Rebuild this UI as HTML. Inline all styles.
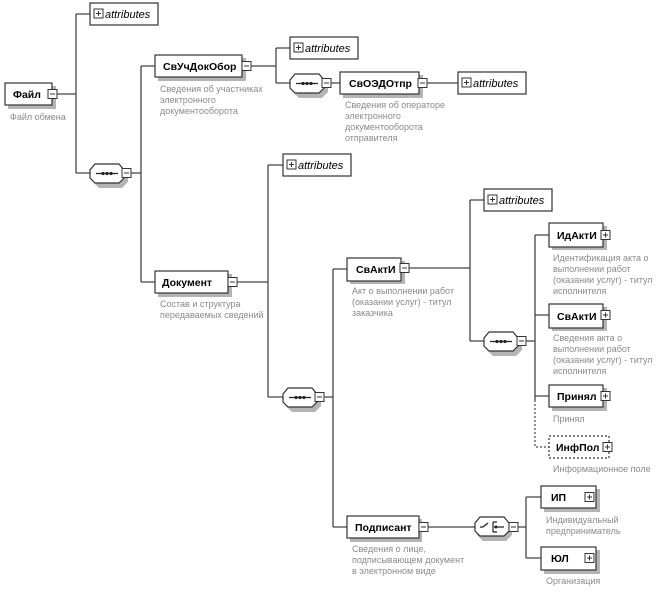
<!DOCTYPE html>
<html><head><meta charset="utf-8"><style>
html,body{margin:0;padding:0;background:#fff;}
svg{display:block;}
.n{font-family:"Liberation Sans",sans-serif;font-size:10.5px;font-weight:bold;fill:#000;}
.a{font-family:"Liberation Sans",sans-serif;font-size:11px;font-style:italic;fill:#000;}
.c{font-family:"Liberation Sans",sans-serif;font-size:9px;fill:#8a8a8a;}
.l{stroke:#444;stroke-width:1.3;fill:none;}
.sh{fill:#b4b4b4;}
.bx{fill:#fff;stroke:#333;stroke-width:1.2;}
.ic{fill:#fff;stroke:#333;stroke-width:1;}
</style></head><body>
<svg width="661" height="593" viewBox="0 0 661 593" xmlns="http://www.w3.org/2000/svg">
<defs>
<g id="mi"><rect class="ic" x="0" y="-4.5" width="9" height="9"/><line x1="2" y1="0" x2="7" y2="0" stroke="#333"/></g>
<g id="pl"><rect class="ic" x="0" y="-4.5" width="9" height="9"/><line x1="2" y1="0" x2="7" y2="0" stroke="#333"/><line x1="4.5" y1="-2.5" x2="4.5" y2="2.5" stroke="#333"/></g>
<g id="seq">
<polygon points="6,3 29,3 35,9 35,16 29,22 6,22 0,16 0,9" class="sh" transform="translate(3,2)"/>
<polygon points="5,0 29,0 34,6 34,14 29,19 5,19 0,14 0,6" class="bx"/>
<line x1="6" y1="9.5" x2="28" y2="9.5" stroke="#222" stroke-width="1.2"/>
<circle cx="13" cy="9.5" r="1.6" fill="#222"/><circle cx="17" cy="9.5" r="1.6" fill="#222"/><circle cx="21" cy="9.5" r="1.6" fill="#222"/>
</g>
<g id="att">
<rect class="bx" x="0" y="0" width="68" height="22"/>
<rect class="ic" x="4" y="6" width="9" height="9"/><line x1="6" y1="10.5" x2="11" y2="10.5" stroke="#333"/><line x1="8.5" y1="8" x2="8.5" y2="13" stroke="#333"/>
<text class="a" x="15" y="15">attributes</text>
</g>
</defs>

<g class="l">
<path d="M57 94H76M76 14V173M76 14H90M76 173H90M131 173H141M141 66V282M141 66H155M141 282H155"/>
<path d="M251 66H276M276 48V83M276 48H290M276 83H290M331 83H340M427 83H458"/>
<path d="M237 282H268M268 165V397M268 165H283M268 397H283M324 397H333M333 269V527M333 269H347M333 527H347"/>
<path d="M409 268H470M470 200V341M470 200H484M470 341H484M525 341H535M535 235V400M535 235H549M535 315H549M535 396H549"/>
<path d="M428 527H475M517 527H526M526 497V558M526 497H541M526 558H541"/>
</g>
<path d="M535 400V447H549" stroke="#444" stroke-width="1.2" fill="none" stroke-dasharray="2,2"/>

<rect class="sh" x="8" y="86" width="48" height="23"/>
<rect class="bx" x="5" y="83" width="47" height="22"/>
<text class="n" x="13" y="98">Файл</text>
<use href="#mi" x="48" y="94"/>
<text class="c" x="10" y="120">Файл обмена</text>

<use href="#att" x="90" y="3"/>
<use href="#seq" x="90" y="164"/>
<use href="#mi" x="122" y="173"/>

<rect class="sh" x="158" y="58" width="88" height="23"/>
<rect class="bx" x="155" y="55" width="87" height="22"/>
<text class="n" x="163" y="70">СвУчДокОбор</text>
<use href="#mi" x="242" y="66"/>
<text class="c" x="160" y="92">Сведения об участниках</text>
<text class="c" x="160" y="103">электронного</text>
<text class="c" x="160" y="114">документооборота</text>

<use href="#att" x="290" y="37"/>
<use href="#seq" x="290" y="74"/>
<use href="#mi" x="322" y="83"/>

<rect class="sh" x="343" y="75" width="80" height="23"/>
<rect class="bx" x="340" y="72" width="79" height="22"/>
<text class="n" x="349" y="87">СвОЭДОтпр</text>
<use href="#mi" x="418" y="83"/>
<text class="c" x="345" y="108">Сведения об операторе</text>
<text class="c" x="345" y="119">электронного</text>
<text class="c" x="345" y="130">документооборота</text>
<text class="c" x="345" y="141">отправителя</text>
<use href="#att" x="458" y="72"/>

<rect class="sh" x="158" y="274" width="74" height="23"/>
<rect class="bx" x="155" y="271" width="73" height="22"/>
<text class="n" x="162" y="286">Документ</text>
<use href="#mi" x="228" y="282"/>
<text class="c" x="160" y="307">Состав и структура</text>
<text class="c" x="160" y="318">передаваемых сведений</text>

<use href="#att" x="283" y="154"/>
<use href="#seq" x="283" y="388"/>
<use href="#mi" x="315" y="397"/>

<rect class="sh" x="350" y="261" width="55" height="23"/>
<rect class="bx" x="347" y="258" width="54" height="23"/>
<text class="n" x="356" y="273">СвАктИ</text>
<use href="#mi" x="400" y="268"/>
<text class="c" x="352" y="294">Акт о выполнении работ</text>
<text class="c" x="352" y="305">(оказании услуг) - титул</text>
<text class="c" x="352" y="316">заказчика</text>

<use href="#att" x="484" y="189"/>
<use href="#seq" x="484" y="332"/>
<use href="#mi" x="517" y="341"/>

<rect class="sh" x="552" y="226" width="55" height="24"/>
<rect class="bx" x="549" y="223" width="54" height="24"/>
<text class="n" x="557" y="239">ИдАктИ</text>
<use href="#pl" x="601" y="235"/>
<text class="c" x="553" y="261">Идентификация акта о</text>
<text class="c" x="553" y="272">выполнении работ</text>
<text class="c" x="553" y="283">(оказании услуг) - титул</text>
<text class="c" x="553" y="294">исполнителя</text>

<rect class="sh" x="552" y="307" width="55" height="24"/>
<rect class="bx" x="549" y="304" width="54" height="24"/>
<text class="n" x="557" y="320">СвАктИ</text>
<use href="#pl" x="601" y="315"/>
<text class="c" x="553" y="341">Сведения акта о</text>
<text class="c" x="553" y="352">выполнении работ</text>
<text class="c" x="553" y="363">(оказании услуг) - титул</text>
<text class="c" x="553" y="374">исполнителя</text>

<rect class="sh" x="552" y="388" width="55" height="23"/>
<rect class="bx" x="549" y="385" width="54" height="22"/>
<text class="n" x="557" y="400">Принял</text>
<use href="#pl" x="601" y="396"/>
<text class="c" x="553" y="422">Принял</text>

<rect class="bx" x="549" y="436" width="60" height="22" stroke-dasharray="2,2"/>
<text class="n" x="556" y="451">ИнфПол</text>
<use href="#pl" x="603" y="447"/>
<text class="c" x="553" y="472">Информационное поле</text>

<rect class="sh" x="350" y="519" width="72" height="23"/>
<rect class="bx" x="347" y="516" width="72" height="22"/>
<text class="n" x="355" y="531">Подписант</text>
<use href="#mi" x="419" y="527"/>
<text class="c" x="352" y="552">Сведения о лице,</text>
<text class="c" x="352" y="563">подписывающем документ</text>
<text class="c" x="352" y="574">в электронном виде</text>

<g transform="translate(475,517)">
<polygon points="6,3 29,3 35,9 35,16 29,22 6,22 0,16 0,9" class="sh" transform="translate(2,2)"/>
<polygon points="5,0 29,0 34,6 34,14 29,19 5,19 0,14 0,6" class="bx"/>
<path d="M5 10H8L13 6M19 10H29M18 5V15M18 5H22M18 15H22" stroke="#222" stroke-width="1.2" fill="none"/>
<circle cx="21" cy="10" r="1.5" fill="#222"/>
</g>
<use href="#mi" x="509" y="527"/>

<rect class="sh" x="544" y="489" width="56" height="23"/>
<rect class="bx" x="541" y="486" width="55" height="22"/>
<text class="n" x="551" y="501">ИП</text>
<use href="#pl" x="585" y="497"/>
<text class="c" x="546" y="523">Индивидуальный</text>
<text class="c" x="546" y="534">предприниматель</text>

<rect class="sh" x="544" y="550" width="56" height="24"/>
<rect class="bx" x="541" y="547" width="55" height="23"/>
<text class="n" x="551" y="562">ЮЛ</text>
<use href="#pl" x="585" y="558"/>
<text class="c" x="546" y="584">Организация</text>
</svg>
</body></html>
